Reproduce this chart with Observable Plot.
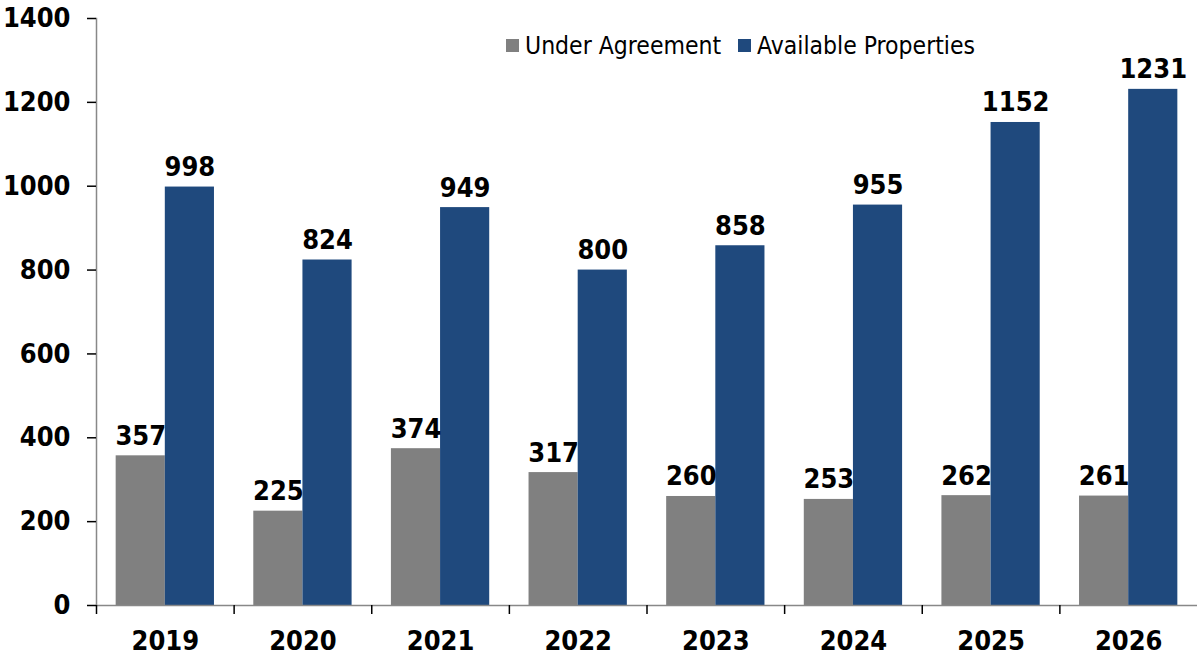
<!DOCTYPE html>
<html>
<head>
<meta charset="utf-8">
<script src="https://cdn.jsdelivr.net/npm/d3@7"></script>
<script src="https://cdn.jsdelivr.net/npm/@observablehq/plot@0.6"></script>
<style>
  body { margin: 0; background: #fff; }
  #wrap { position: relative; width: 1197px; height: 660px; }
  #legend { position: absolute; left: 506px; top: 31px; display: flex; align-items: center;
    font-family: "DejaVu Sans Condensed", "DejaVu Sans", sans-serif; font-stretch: condensed; font-size: 24.5px; color: #000; }
  #legend .item { display: flex; align-items: center; margin-right: 17px; }
  #legend .sw { width: 13px; height: 13px; margin-right: 6px; }
  svg g[aria-label$="axis tick"] { stroke: #888888; stroke-width: 1.5; }
</style>
</head>
<body>
<div id="wrap"><div id="legend"></div></div>
<script>
const years = ["2019", "2020", "2021", "2022", "2023", "2024", "2025", "2026"];
const seriesNames = ["Under Agreement", "Available Properties"];
const seriesColors = ["#808080", "#1F497D"];
const underAgreement = [357, 225, 374, 317, 260, 253, 262, 261];
const availableProperties = [998, 824, 949, 800, 858, 955, 1152, 1231];
const yTicks = [0, 200, 400, 600, 800, 1000, 1200, 1400];

const data = years.flatMap((y, i) => [
  {year: y, series: seriesNames[0], value: underAgreement[i]},
  {year: y, series: seriesNames[1], value: availableProperties[i]}
]);

const W = 1197, ML = 96, MR = 0;
const bw = (W - ML - MR) / years.length;
const font = '"DejaVu Sans Condensed", "DejaVu Sans", sans-serif';

const chart = Plot.plot({
  width: W, height: 660,
  marginLeft: ML, marginRight: MR, marginTop: 18, marginBottom: 55,
  style: {fontFamily: font, fontSize: "27px", fontWeight: "bold", color: "#000", background: "#fff", fontStretch: "condensed"},
  fx: {domain: years, padding: 0, round: false, label: null},
  x: {domain: seriesNames, paddingInner: 0, paddingOuter: 0.4, round: false, axis: null},
  y: {domain: [0, 1400], label: null},
  color: {domain: seriesNames, range: seriesColors},
  marks: [
    Plot.barY(data, {fx: "year", x: "series", y: "value", fill: "series"}),
    Plot.text(data, {fx: "year", x: "series", y: "value", text: d => String(d.value),
      lineAnchor: "bottom", dy: -11, fill: "#000", fontSize: 27, fontWeight: "bold"}),
    Plot.ruleY([0], {stroke: "#888888", strokeWidth: 1.5}),
    Plot.frame({anchor: "left", stroke: "#888888", strokeWidth: 1.5, facetAnchor: "left"}),
    Plot.axisY({ticks: yTicks, tickSize: 9, tickPadding: 17, tickFormat: d => String(d), label: null}),
    Plot.axisFx({anchor: "bottom", tickSize: 0, tickPadding: 25, label: null}),
    Plot.axisFx({anchor: "bottom", tickSize: 9, tickFormat: () => "", dx: -bw / 2, label: null})
  ]
});
document.getElementById("wrap").prepend(chart);

const legend = document.getElementById("legend");
seriesNames.forEach((s, i) => {
  const item = document.createElement("div");
  item.className = "item";
  const sw = document.createElement("div");
  sw.className = "sw";
  sw.style.background = seriesColors[i];
  const t = document.createElement("span");
  t.textContent = s;
  item.append(sw, t);
  legend.append(item);
});
</script>
</body>
</html>
